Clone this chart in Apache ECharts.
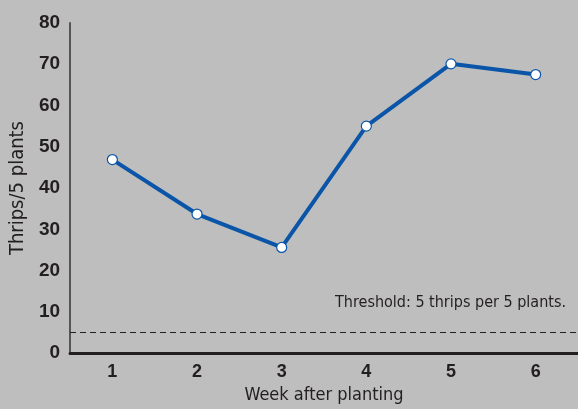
<!DOCTYPE html>
<html><head><meta charset="utf-8">
<script src="https://cdn.jsdelivr.net/npm/echarts@6/dist/echarts.min.js"></script>
<style>html,body{margin:0;padding:0;background:#bebebe}#c{width:578px;height:409px}</style>
</head><body><div id="c"></div>
<script>
var weeks = ['1','2','3','4','5','6'];
var thrips = [46.9, 33.7, 25.6, 55.0, 70.1, 67.5];
var threshold = 5;
var thresholdText = 'Threshold: 5 thrips per 5 plants.';
var yTicks = {min: 0, max: 80, interval: 10};
var cond = "'Liberation Sans Narrow','DejaVu Sans Condensed',sans-serif";
var chart = echarts.init(document.getElementById('c'));
chart.setOption({
  backgroundColor: '#bebebe',
  animation: false,
  grid: {left: 69, top: 23, width: 511, bottom: 53},
  xAxis: {
    type: 'category', data: weeks, boundaryGap: true,
    name: 'Week after planting', nameLocation: 'middle', nameGap: 31,
    nameTextStyle: {fontFamily: cond, fontSize: 18, color: '#231f20'},
    axisLine: {lineStyle: {color: '#231f20', width: 3}},
    axisTick: {alignWithLabel: true, inside: true, length: 7, lineStyle: {color: '#231f20', width: 2}},
    axisLabel: {fontFamily: "'Liberation Sans',sans-serif", fontWeight: 'bold', fontSize: 18, color: '#231f20', margin: 10},
    splitLine: {show: false}
  },
  yAxis: {
    type: 'value', min: yTicks.min, max: yTicks.max, interval: yTicks.interval,
    name: 'Thrips/5 plants', nameLocation: 'middle', nameGap: 38, nameRotate: 90,
    nameTextStyle: {fontFamily: cond, fontSize: 20, color: '#231f20'},
    axisLine: {show: true, lineStyle: {color: '#555', width: 2}},
    axisTick: {show: false},
    axisLabel: {fontFamily: "'Liberation Sans',sans-serif", fontWeight: 'bold', fontSize: 19, color: '#231f20', margin: 10},
    splitLine: {show: false}
  },
  series: [{
    type: 'line', data: thrips,
    symbol: 'circle', symbolSize: 10,
    lineStyle: {color: '#0a55a8', width: 4},
    itemStyle: {color: '#ffffff', borderColor: '#0a55a8', borderWidth: 1.2},
    markLine: {
      silent: true, symbol: 'none',
      lineStyle: {type: [6, 4], color: '#231f20', width: 1},
      label: {
        show: true, position: 'insideEndTop', formatter: thresholdText,
        fontFamily: cond, fontSize: 16, color: '#231f20', distance: [12, 22]
      },
      data: [{yAxis: threshold}]
    }
  }]
});
</script></body></html>
